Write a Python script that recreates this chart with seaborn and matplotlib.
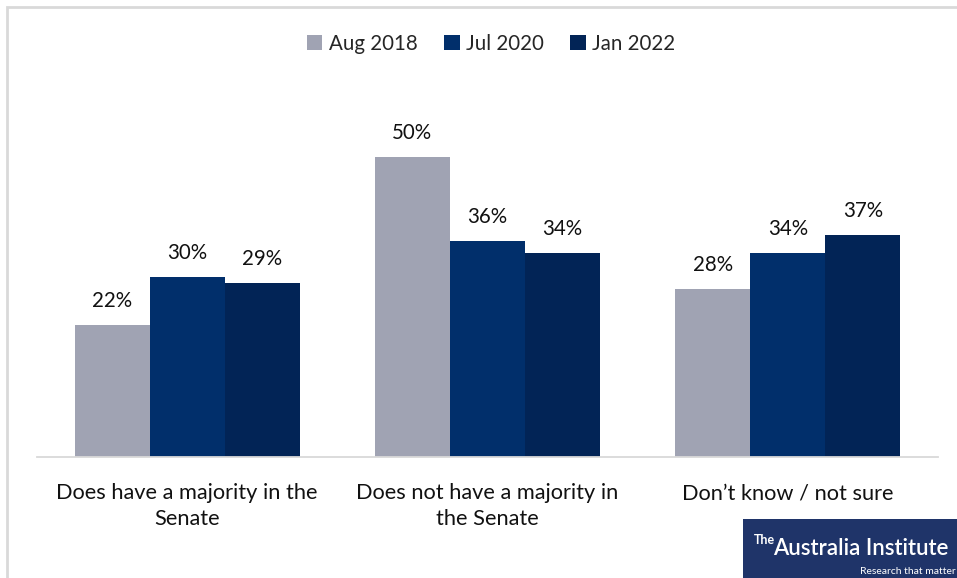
import matplotlib
matplotlib.use("Agg")
import matplotlib.pyplot as plt
from matplotlib.patches import Patch, Rectangle
import seaborn as sns
import pandas as pd

# Survey responses: does the government have a Senate majority?
categories = ["Does have a majority in the\nSenate",
              "Does not have a majority in\nthe Senate",
              "Don\u2019t know / not sure"]
waves = ["Aug 2018", "Jul 2020", "Jan 2022"]
aug_2018 = [22, 50, 28]
jul_2020 = [30, 36, 34]
jan_2022 = [29, 34, 37]

colors = ["#A0A3B3", "#012F6B", "#022456"]

rows = []
for wave, vals in zip(waves, [aug_2018, jul_2020, jan_2022]):
    for cat, v in zip(categories, vals):
        rows.append({"category": cat, "wave": wave, "value": v})
df = pd.DataFrame(rows)

sns.set_theme(style="white")
plt.rcParams["font.family"] = ["Lato", "DejaVu Sans"]

W, H = 957, 578
fig = plt.figure(figsize=(W / 100, H / 100), dpi=100)
# axes: x from 37 to 938 px, baseline at y=457, 6 px per percentage point
ax = fig.add_axes([37 / W, (H - 457) / H, (938 - 37) / W, 360 / H])

sns.barplot(data=df, x="category", y="value", hue="wave", order=categories,
            hue_order=waves, palette=colors, width=0.75, saturation=1,
            edgecolor="none", linewidth=0, legend=False, ax=ax)

ax.set_xlim(-0.5, 2.5)
ax.set_ylim(0, 60)
ax.set_xlabel("")
ax.set_ylabel("")
ax.set_yticks([])
for side in ["top", "right", "left"]:
    ax.spines[side].set_visible(False)
ax.spines["bottom"].set_color("#D9D9D9")
ax.spines["bottom"].set_linewidth(1.3)
ax.tick_params(axis="x", length=0, pad=19, labelsize=15.7, colors="#111111")
for lbl in ax.get_xticklabels():
    lbl.set_linespacing(1.35)

for cont in ax.containers:
    ax.bar_label(cont, labels=[f"{int(v)}%" for v in cont.datavalues],
                 padding=10, fontsize=14.8, color="#111111")

handles = [Patch(facecolor=c, edgecolor="none", label=w) for c, w in zip(colors, waves)]
fig.legend(handles=handles, loc="center", bbox_to_anchor=(491 / W, 1 - 44 / H),
           ncol=3, frameon=False, fontsize=14.8, handlelength=0.75,
           handleheight=0.75, handletextpad=0.3, columnspacing=1.3)

# light frame around the chart area
fig.patches.append(Rectangle((7 / W, -0.1), 1.2, (H - 7) / H + 0.1,
                             transform=fig.transFigure, facecolor="none",
                             edgecolor="#D9D9D9", linewidth=2, zorder=0))

# institute badge in the lower right corner
fig.patches.append(Rectangle((743 / W, 0), (W - 743) / W, (H - 519) / H,
                             transform=fig.transFigure, facecolor="#1F3469",
                             edgecolor="none", zorder=5))
fig.text(754 / W, 1 - 544 / H, "The", color="white", fontsize=9,
         fontweight="bold", va="baseline", zorder=6)
fig.text(773 / W, 1 - 555 / H, "Australia Institute", color="white",
         fontsize=16, fontweight="semibold", va="baseline", zorder=6)
fig.text(956 / W, 1 - 574 / H, "Research that matter", color="white",
         fontsize=7.5, va="baseline", ha="right", zorder=6)

fig.savefig("out.png", dpi=100)
